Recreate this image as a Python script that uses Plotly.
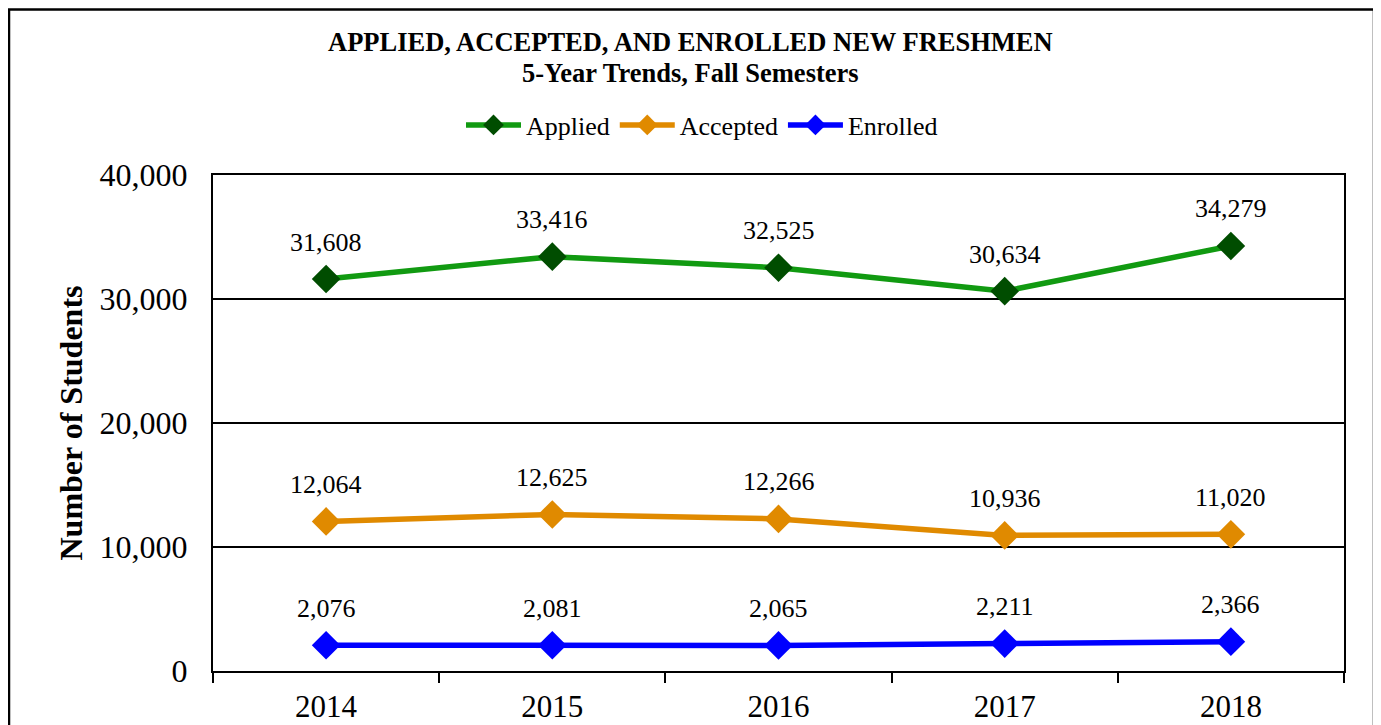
import plotly.graph_objects as go

years = ["2014", "2015", "2016", "2017", "2018"]
applied = [31608, 33416, 32525, 30634, 34279]
accepted = [12064, 12625, 12266, 10936, 11020]
enrolled = [2076, 2081, 2065, 2211, 2366]

series = [
    ("Applied", applied, "#119A11", "#004D00"),
    ("Accepted", accepted, "#E08A00", "#E08A00"),
    ("Enrolled", enrolled, "#0000FF", "#0000FF"),
]

FONT = "Liberation Serif, Times New Roman, serif"

# page body has an 8px default margin, so the figure is 8px smaller
W, H = 1373, 717
L, R, T, B = 205, 37, 167, 54
PW, PH = W - L - R, H - T - B

def px(x):  # screen x -> paper
    return (x - 8 - L) / PW

def py(y):  # screen y -> paper
    return (H - B - (y - 8)) / PH

fig = go.Figure()
annotations = []
for name, vals, lc, mc in series:
    fig.add_trace(go.Scatter(
        x=years, y=vals, name=name, mode="lines+markers",
        line=dict(color=lc, width=5.5),
        marker=dict(symbol="diamond", size=22, color=mc),
    ))
    for i, v in enumerate(vals):
        annotations.append(dict(
            x=i, y=v, xref="x", yref="y", text=f"{v:,}", showarrow=False,
            yshift=37, font=dict(family=FONT, size=26, color="black"),
        ))

annotations.append(dict(
    x=px(690), y=py(42), xref="paper", yref="paper", showarrow=False,
    text="<b>APPLIED, ACCEPTED, AND ENROLLED NEW FRESHMEN</b>",
    font=dict(family=FONT, size=26.5, color="black"), yanchor="middle",
))
annotations.append(dict(
    x=px(690), y=py(73), xref="paper", yref="paper", showarrow=False,
    text="<b>5-Year Trends, Fall Semesters</b>",
    font=dict(family=FONT, size=26.5, color="black"), yanchor="middle",
))

fig.update_layout(
    width=W, height=H,
    margin=dict(l=L, r=R, t=T, b=B, autoexpand=False),
    paper_bgcolor="white", plot_bgcolor="white",
    font=dict(family=FONT, color="black"),
    showlegend=True,
    legend=dict(orientation="h", x=px(702), xanchor="center", y=py(125), yanchor="middle",
                font=dict(family=FONT, size=26, color="black"),
                itemwidth=55, tracegroupgap=0, bgcolor="rgba(0,0,0,0)"),
    annotations=annotations,
    shapes=[dict(type="rect", xref="paper", yref="paper",
                 x0=px(9), x1=px(1374), y0=py(740), y1=py(9.5),
                 line=dict(color="black", width=2.5), fillcolor="rgba(0,0,0,0)", layer="below")],
)

fig.update_xaxes(
    type="category", range=[-0.5, 4.5], tickson="boundaries",
    ticks="outside", ticklen=10, tickwidth=2, tickcolor="black",
    showline=True, linecolor="black", linewidth=2, mirror=True,
    showgrid=False, tickfont=dict(family=FONT, size=31, color="black"),
    ticklabelstandoff=7, automargin=False,
)
fig.update_yaxes(
    range=[0, 40000], dtick=10000, tickformat=",",
    showgrid=True, gridcolor="black", gridwidth=1.5,
    showline=True, linecolor="black", linewidth=2, mirror=True,
    zeroline=False, ticks="", tickfont=dict(family=FONT, size=32, color="black"),
    ticklabelstandoff=17, automargin=False,
    title=dict(text="<b>Number of Students</b>", font=dict(family=FONT, size=32, color="black"), standoff=7),
)

fig.write_html("out.html")
